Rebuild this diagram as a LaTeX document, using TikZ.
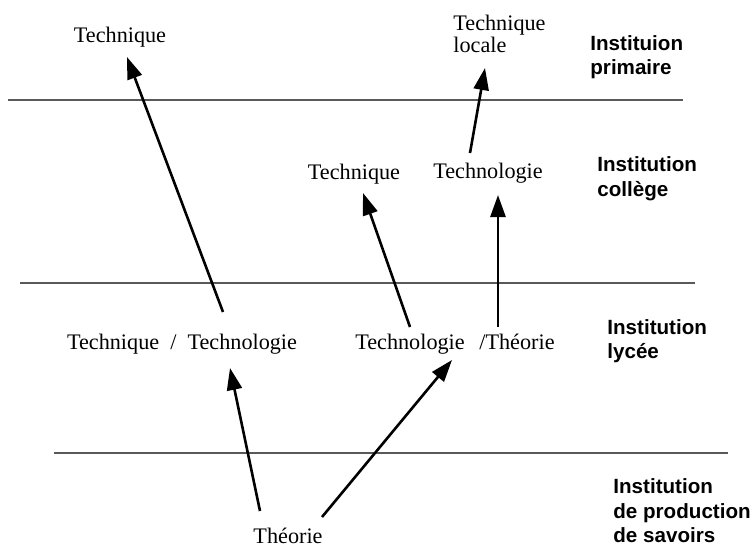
\documentclass[tikz,border=0pt]{standalone}
\usepackage{fontspec}
\setmainfont{Liberation Serif}
\setsansfont{Liberation Sans}
\usepackage{tikz}
\usetikzlibrary{arrows.meta, positioning, calc}
\tikzstyle{txtNode} = [inner sep=0pt, anchor=base, font=\fontsize{11.1}{11}\selectfont]
\tikzstyle{instNode} = [inner sep=0pt, anchor=west, align=left, font=\sffamily\bfseries\fontsize{10.3}{12.3}\selectfont]
\tikzstyle{levelLine} = [line width=1pt, color=black!65]
\tikzstyle{upArrow} = [->, line width=1.3pt]

\begin{document}
\begin{tikzpicture}[x=0.5pt, y=-0.5pt, >={Triangle[length=11pt, width=7.5pt]}]
        \useasboundingbox (0,0) rectangle (751,547);
        % Nodes
        \node [txtNode] (tech1) at (120,42) {Technique};
        \node [txtNode, anchor=west, align=left] (techloc) at (453,34) {Technique\\locale};
        
        \node [txtNode] (techcol) at (354,179) {Technique};
        \node [txtNode] (techno) at (488,178) {Technologie};
        
        \node [txtNode] (techtech) at (182,349) {Technique \ / \ Technologie};
        \node [txtNode] (technolyc) at (410,349) {Technologie};
        \node [txtNode] (theolyc) at (517,349) {/Théorie};
        
        \node [txtNode] (theorie) at (288,543) {Théorie};
        
        % Institutions
        \node [instNode] (primaire) at (590,57) {Instituion\\primaire};
        \node [instNode] (college) at (597,179) {Institution\\collège};
        \node [instNode] (lycee) at (607,341) {Institution\\lycée};
        \node [instNode] (savoirs) at (613,511) {Institution\\de production\\de savoirs};
        
        % Levels
        \draw [levelLine] (8,100) -- (683,100);
        \draw [levelLine] (20,283) -- (695,283);
        \draw [levelLine] (54,453) -- (728,453);
        
        % Arrows
        \draw [upArrow] ($(techtech.base)+(41,-37)$) -- ($(tech1.base)+(7,15)$);
        \draw [upArrow] ($(techno.base)+(-18,-25)$) -- ($(techloc.west)+(32,34)$);
        \draw [upArrow] ($(technolyc.base)+(0,-22)$) -- ($(techcol.base)+(9,14)$);
        \draw [upArrow] ($(theolyc.base)+(-19,-22)$) -- ($(techno.base)+(10,17)$);
        \draw [upArrow] ($(theorie.base)+(-28,-32)$) -- ($(techtech.base)+(48,19)$);
        \draw [upArrow] ($(theorie.base)+(34,-26)$) -- ($(technolyc.base)+(42,11)$);
    \end{tikzpicture}
\end{document}
